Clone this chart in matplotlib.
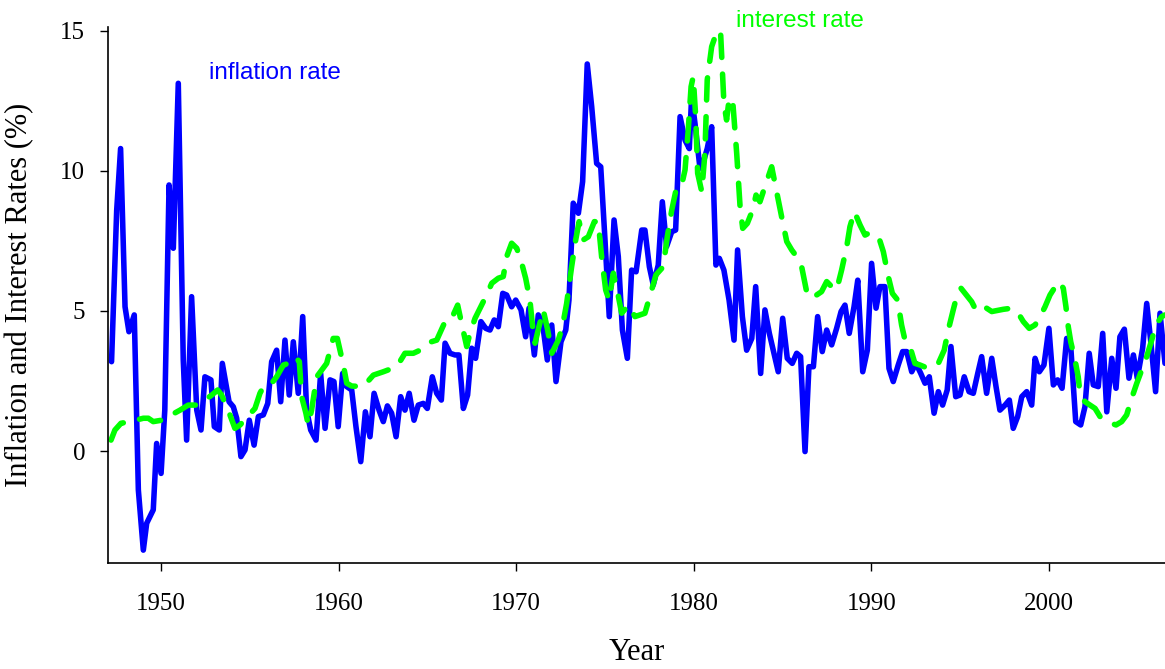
"""
Inflation and interest rates, 1947-2006 (quarterly)
"""
import matplotlib
matplotlib.use("Agg")
import matplotlib.pyplot as plt

# inflation rate (%)
infl_year = [1947.2, 1947.49, 1947.71, 1947.96, 1948.18, 1948.48, 1948.71, 1948.99, 1949.18, 1949.55,
             1949.74, 1949.99, 1950.2, 1950.44, 1950.68, 1950.96, 1951.24, 1951.43, 1951.71, 1952.0,
             1952.24, 1952.46, 1952.8, 1952.99, 1953.27, 1953.44, 1953.82, 1954.06, 1954.25, 1954.49,
             1954.72, 1954.96, 1955.23, 1955.47, 1955.75, 1956.0, 1956.22, 1956.5, 1956.73, 1956.97,
             1957.21, 1957.44, 1957.72, 1957.97, 1958.19, 1958.42, 1958.72, 1958.98, 1959.23, 1959.51,
             1959.73, 1959.97, 1960.22, 1960.45, 1960.73, 1960.97, 1961.24, 1961.5, 1961.76, 1961.99,
             1962.27, 1962.51, 1962.74, 1962.98, 1963.23, 1963.49, 1963.73, 1963.97, 1964.24, 1964.48,
             1964.76, 1964.99, 1965.27, 1965.52, 1965.78, 1965.99, 1966.27, 1966.55, 1966.77, 1967.02,
             1967.26, 1967.49, 1967.71, 1968.01, 1968.28, 1968.52, 1968.76, 1968.99, 1969.24, 1969.46,
             1969.74, 1969.97, 1970.27, 1970.53, 1970.72, 1971.02, 1971.24, 1971.47, 1971.75, 1972.0,
             1972.24, 1972.52, 1972.79, 1972.97, 1973.21, 1973.5, 1973.74, 1974.0, 1974.25, 1974.53,
             1974.76, 1975.0, 1975.24, 1975.51, 1975.75, 1975.98, 1976.26, 1976.5, 1976.75, 1977.07,
             1977.25, 1977.5, 1977.72, 1978.0, 1978.23, 1978.47, 1978.76, 1978.98, 1979.23, 1979.51,
             1979.75, 1979.88, 1980.07, 1980.35, 1980.58, 1980.76, 1981.01, 1981.25, 1981.44, 1981.7,
             1981.99, 1982.27, 1982.47, 1982.74, 1982.98, 1983.27, 1983.49, 1983.77, 1984.01, 1984.26,
             1984.52, 1984.76, 1985.01, 1985.27, 1985.55, 1985.8, 1986.02, 1986.27, 1986.49, 1986.74,
             1986.98, 1987.24, 1987.49, 1987.77, 1988.05, 1988.3, 1988.52, 1988.76, 1989.03, 1989.24,
             1989.52, 1989.78, 1990.02, 1990.27, 1990.49, 1990.77, 1991.0, 1991.24, 1991.52, 1991.77,
             1992.0, 1992.28, 1992.52, 1992.79, 1993.03, 1993.27, 1993.54, 1993.78, 1994.02, 1994.28,
             1994.49, 1994.76, 1995.0, 1995.24, 1995.51, 1995.75, 1996.0, 1996.22, 1996.5, 1996.79,
             1997.03, 1997.25, 1997.54, 1997.78, 1998.0, 1998.25, 1998.48, 1998.76, 1999.04, 1999.23,
             1999.47, 1999.73, 2000.01, 2000.26, 2000.5, 2000.75, 2001.01, 2001.24, 2001.52, 2001.8,
             2002.04, 2002.28, 2002.51, 2002.79, 2003.04, 2003.27, 2003.55, 2003.79, 2004.01, 2004.26,
             2004.52, 2004.77, 2004.99, 2005.29, 2005.52, 2005.74, 2006.02, 2006.27, 2006.55]
infl_rate = [3.19, 8.6, 10.8, 5.15, 4.26, 4.86, -1.39, -3.54, -2.58, -2.1,
             0.27, -0.8, 1.46, 9.5, 7.24, 13.13, 3.25, 0.39, 5.51, 1.46,
             0.75, 2.65, 2.54, 0.87, 0.75, 3.13, 1.76, 1.58, 1.17, -0.2,
             0.04, 1.1, 0.21, 1.23, 1.29, 1.7, 3.19, 3.6, 1.76, 3.96,
             2.0, 3.9, 2.06, 4.8, 1.46, 0.75, 0.39, 2.77, 0.81, 2.54,
             2.48, 0.87, 2.77, 2.3, 2.18, 0.87, -0.38, 1.4, 0.51, 2.06,
             1.46, 1.05, 1.61, 1.35, 0.51, 1.94, 1.46, 2.06, 1.1, 1.64,
             1.7, 1.52, 2.65, 2.06, 1.82, 3.85, 3.49, 3.43, 3.43, 1.52,
             2.0, 3.67, 3.31, 4.62, 4.38, 4.32, 4.68, 4.44, 5.63, 5.57,
             5.15, 5.39, 5.04, 4.08, 5.1, 3.43, 4.86, 4.62, 3.25, 4.5,
             2.48, 3.9, 4.32, 5.39, 8.85, 8.49, 9.62, 13.82, 12.3, 10.27,
             10.15, 7.54, 4.8, 8.25, 6.94, 4.32, 3.31, 6.46, 6.4, 7.89,
             7.89, 6.58, 5.93, 6.64, 8.9, 7.3, 7.83, 7.89, 11.94, 11.1,
             10.8, 12.65, 11.7, 10.1, 10.4, 10.8, 11.58, 6.64, 6.88, 6.46,
             5.39, 3.96, 7.18, 4.8, 3.6, 4.02, 5.87, 2.77, 5.04, 4.2,
             3.49, 2.83, 4.74, 3.31, 3.13, 3.49, 3.37, -0.02, 3.01, 3.01,
             4.8, 3.55, 4.32, 3.79, 4.38, 4.98, 5.21, 4.2, 5.15, 6.1,
             2.83, 3.6, 6.7, 5.1, 5.87, 5.87, 2.95, 2.48, 3.07, 3.55,
             3.55, 2.83, 3.13, 2.77, 2.42, 2.65, 1.35, 2.12, 1.64, 2.18,
             3.73, 1.94, 2.0, 2.65, 2.12, 2.06, 2.77, 3.37, 2.06, 3.31,
             2.3, 1.46, 1.64, 1.82, 0.81, 1.23, 1.94, 2.12, 1.64, 3.31,
             2.83, 3.07, 4.38, 2.36, 2.54, 2.24, 4.02, 3.73, 1.05, 0.93,
             1.58, 3.49, 2.36, 2.3, 4.2, 1.4, 3.31, 2.24, 4.08, 4.35,
             2.6, 3.43, 2.6, 3.67, 5.27, 3.96, 2.12, 4.92, 3.13]

# 3-month interest rate (%)
rate_year = [1947.17, 1947.39, 1947.73, 1948.24, 1948.99, 1949.27, 1949.55, 1950.02, 1950.4, 1951.06,
             1951.52, 1952.09, 1952.46, 1952.85, 1953.18, 1953.4, 1953.87, 1954.15, 1954.44, 1955.28,
             1955.56, 1955.81, 1956.22, 1956.5, 1956.88, 1957.16, 1957.54, 1957.78, 1957.91, 1958.15,
             1958.28, 1958.47, 1958.76, 1959.32, 1959.69, 1959.92, 1960.26, 1960.45, 1960.73, 1961.38,
             1961.95, 1962.51, 1963.27, 1963.73, 1964.2, 1964.58, 1964.95, 1965.52, 1965.99, 1966.3,
             1966.7, 1966.92, 1967.21, 1967.39, 1967.68, 1967.96, 1968.33, 1968.62, 1968.99, 1969.27,
             1969.46, 1969.74, 1970.03, 1970.31, 1970.53, 1970.77, 1970.96, 1971.06, 1971.28, 1971.52,
             1971.77, 1972.0, 1972.37, 1972.6, 1972.84, 1973.12, 1973.35, 1973.54, 1973.78, 1974.06,
             1974.4, 1974.62, 1974.81, 1975.04, 1975.23, 1975.47, 1975.72, 1975.94, 1976.32, 1976.69,
             1977.25, 1977.63, 1977.87, 1978.28, 1978.51, 1978.76, 1979.04, 1979.32, 1979.51, 1979.69,
             1979.85, 1979.97, 1980.11, 1980.22, 1980.45, 1980.63, 1980.76, 1981.01, 1981.32, 1981.51,
             1981.7, 1981.85, 1982.0, 1982.19, 1982.42, 1982.61, 1982.76, 1983.02, 1983.32, 1983.51,
             1983.73, 1984.01, 1984.39, 1984.67, 1984.95, 1985.24, 1985.52, 1985.8, 1986.08, 1986.36,
             1986.64, 1987.2, 1987.49, 1987.77, 1988.05, 1988.33, 1988.62, 1988.8, 1989.05, 1989.37,
             1989.65, 1989.93, 1990.21, 1990.44, 1990.68, 1990.96, 1991.19, 1991.49, 1991.71, 1991.9,
             1992.18, 1992.46, 1992.75, 1993.21, 1993.78, 1994.11, 1994.34, 1994.62, 1994.81, 1995.06,
             1995.66, 1995.94, 1996.13, 1996.5, 1996.79, 1997.44, 1997.91, 1998.28, 1998.57, 1998.9,
             1999.23, 1999.51, 1999.79, 2000.07, 2000.35, 2000.6, 2000.82, 2000.97, 2001.1, 2001.24,
             2001.48, 2001.66, 2001.76, 2002.04, 2002.61, 2002.89, 2003.27, 2003.79, 2004.11, 2004.39,
             2004.67, 2004.96, 2005.24, 2005.52, 2005.8, 2006.04, 2006.36, 2006.55]
rate_pct = [0.39, 0.75, 0.99, 1.05, 1.17, 1.17, 1.05, 1.1, 1.23, 1.46,
            1.64, 1.64, 1.82, 2.0, 2.18, 2.0, 1.29, 0.81, 0.93, 1.52,
            2.06, 2.36, 2.42, 2.65, 3.07, 3.13, 3.37, 3.19, 1.94, 1.35,
            0.93, 1.46, 2.65, 3.13, 4.02, 4.02, 3.07, 2.42, 2.32, 2.3,
            2.71, 2.83, 3.01, 3.49, 3.49, 3.6, 3.85, 3.96, 4.62, 4.65,
            5.21, 4.56, 3.73, 4.2, 4.74, 5.1, 5.57, 5.99, 6.17, 6.23,
            6.94, 7.42, 7.24, 6.7, 6.17, 5.39, 4.2, 3.85, 4.44, 5.04,
            4.32, 3.49, 3.96, 4.44, 5.27, 6.58, 7.54, 8.19, 7.54, 7.65,
            8.19, 8.19, 6.94, 5.75, 5.39, 6.35, 5.63, 4.92, 5.21, 4.8,
            4.92, 5.75, 6.29, 6.58, 7.65, 8.6, 9.44, 9.5, 10.04, 11.46,
            13.01, 13.37, 11.94, 9.92, 9.26, 10.63, 13.25, 14.44, 15.01, 14.98,
            12.42, 11.82, 12.6, 12.54, 10.63, 8.73, 7.95, 8.13, 8.61, 9.14,
            8.9, 9.44, 10.15, 9.26, 8.37, 7.48, 7.18, 6.94, 6.58, 5.69,
            5.45, 5.69, 6.05, 5.87, 5.75, 6.46, 7.3, 8.01, 8.55, 8.07,
            7.71, 7.8, 7.71, 7.6, 7.12, 6.23, 5.63, 5.39, 4.5, 3.96,
            3.73, 3.13, 3.07, 2.95, 3.13, 3.6, 4.32, 5.04, 5.51, 5.81,
            5.33, 4.98, 4.98, 5.1, 4.98, 5.06, 5.1, 4.92, 4.62, 4.38,
            4.5, 4.8, 5.15, 5.57, 5.85, 6.05, 5.81, 5.15, 4.44, 3.9,
            3.25, 2.65, 2.06, 1.76, 1.52, 1.23, 1.05, 0.93, 1.05, 1.29,
            1.88, 2.42, 2.89, 3.37, 3.96, 4.5, 4.8, 4.86]

serif = ["Liberation Serif", "DejaVu Serif"]
sans = ["Liberation Sans", "DejaVu Sans"]

fig = plt.figure(figsize=(11.65, 6.69), dpi=100)
ax = fig.add_axes([0.0927, 0.1584, 0.9073, 0.8012])

ax.plot(infl_year, infl_rate, color="#0000ff", linewidth=4,
        solid_joinstyle="round", solid_capstyle="round")
ax.plot(rate_year, rate_pct, color="#00ff00", linewidth=4,
        dashes=(4, 3), dash_capstyle="round", dash_joinstyle="round")

ax.text(1956.4, 13.5, "inflation rate", color="#0000ff", fontsize=17.5,
        family=sans, ha="center", va="center")
ax.text(1986.0, 15.35, "interest rate", color="#00ff00", fontsize=17.5,
        family=sans, ha="center", va="center", clip_on=False)

ax.set_xlim(1947, 2006.55)
ax.set_ylim(-4.0, 15.14)
ax.set_xticks([1950, 1960, 1970, 1980, 1990, 2000])
ax.set_yticks([0, 5, 10, 15])

ax.spines["top"].set_visible(False)
ax.spines["right"].set_visible(False)
for s in ["left", "bottom"]:
    ax.spines[s].set_linewidth(1.2)

ax.tick_params(length=5.8, width=1, labelsize=18)
ax.tick_params(axis="x", pad=16)
ax.tick_params(axis="y", pad=10.5)
for lab in ax.get_xticklabels() + ax.get_yticklabels():
    lab.set_family(serif)

ax.set_xlabel("Year", fontsize=22, family=serif, labelpad=16)
ax.set_ylabel("Inflation and Interest Rates (%)", fontsize=22, family=serif, labelpad=19)

fig.savefig("out.png", dpi=100)
